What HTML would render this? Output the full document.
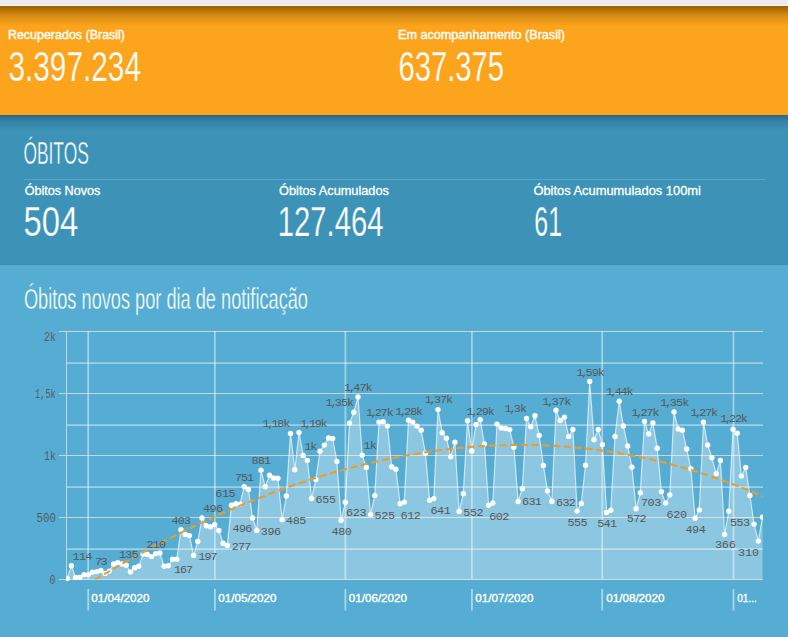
<!DOCTYPE html>
<html><head><meta charset="utf-8"><style>
html,body{margin:0;padding:0;width:788px;height:637px;overflow:hidden;background:#55add3;}
svg{display:block;}
</style></head><body>
<svg width="788" height="637" viewBox="0 0 788 637">
<defs>
<linearGradient id="osh" x1="0" y1="0" x2="0" y2="1">
<stop offset="0" stop-color="#9c5c00"/><stop offset="0.45" stop-color="#d48a14"/><stop offset="1" stop-color="#fca41b"/>
</linearGradient>
<linearGradient id="bsh" x1="0" y1="0" x2="0" y2="1">
<stop offset="0" stop-color="#2b6885"/><stop offset="0.4" stop-color="#3581a4"/><stop offset="1" stop-color="#3c93b7"/>
</linearGradient>
<clipPath id="cl"><rect x="66" y="300" width="697" height="282"/></clipPath>
<clipPath id="cl2"><rect x="66" y="300" width="697" height="279.5"/></clipPath>
</defs>
<rect x="0" y="0" width="788" height="637" fill="#55add3"/>
<rect x="0" y="0" width="788" height="6" fill="#ebebeb"/>
<rect x="0" y="5" width="788" height="1" fill="#f2f5f8"/>
<rect x="0" y="6" width="788" height="109" fill="#fca41b"/>
<rect x="0" y="6" width="788" height="20" fill="url(#osh)"/>
<rect x="0" y="115" width="788" height="150" fill="#3c93b7"/>
<rect x="0" y="115" width="788" height="15" fill="url(#bsh)"/>
<rect x="0" y="264" width="788" height="1" fill="#3a8db2"/>

<g font-family="'Liberation Sans', sans-serif" fill="#ffffff">
<text x="7.9" y="38.7" font-size="12.1" stroke="#ffffff" stroke-width="0.4" textLength="117.1" lengthAdjust="spacingAndGlyphs">Recuperados (Brasil)</text>
<text x="398" y="38.7" font-size="12.1" stroke="#ffffff" stroke-width="0.4" textLength="167" lengthAdjust="spacingAndGlyphs">Em acompanhamento (Brasil)</text>
<g font-size="41.8" stroke="#fca41b" stroke-width="0.25">
<text x="8.4" y="80.6" textLength="132.6" lengthAdjust="spacingAndGlyphs">3.397.234</text>
<text x="398.4" y="80.6" textLength="105.6" lengthAdjust="spacingAndGlyphs">637.375</text>
</g>
<text x="23.4" y="163.9" font-size="31" stroke="#3c93b7" stroke-width="0.4" textLength="65.4" lengthAdjust="spacingAndGlyphs">ÓBITOS</text>
<g font-size="12.3" stroke="#ffffff" stroke-width="0.3">
<text x="24.7" y="194.6" textLength="75.6" lengthAdjust="spacingAndGlyphs">Óbitos Novos</text>
<text x="279.1" y="194.6" textLength="109.8" lengthAdjust="spacingAndGlyphs">Óbitos Acumulados</text>
<text x="533.4" y="194.6" textLength="167.5" lengthAdjust="spacingAndGlyphs">Óbitos Acumumulados 100mi</text>
</g>
<g font-size="41.8" stroke="#3c93b7" stroke-width="0.25">
<text x="23.5" y="235.8" textLength="54.7" lengthAdjust="spacingAndGlyphs">504</text>
<text x="277.8" y="235.8" textLength="105.6" lengthAdjust="spacingAndGlyphs">127.464</text>
<text x="534.3" y="235.8" textLength="27.7" lengthAdjust="spacingAndGlyphs">61</text>
</g>
<text x="23.9" y="308.7" font-size="30.3" stroke="#55add3" stroke-width="0.4" textLength="284.1" lengthAdjust="spacingAndGlyphs">Óbitos novos por dia de notificação</text>
</g>
<rect x="23.7" y="179" width="742" height="1" fill="#5aa6c6"/>

<g fill="none"><line x1="59" y1="331.5" x2="763" y2="331.5" stroke="#cad3d7" stroke-width="1"/><line x1="59" y1="393.5" x2="763" y2="393.5" stroke="#cad3d7" stroke-width="1"/><line x1="59" y1="455.5" x2="763" y2="455.5" stroke="#cad3d7" stroke-width="1"/><line x1="59" y1="517.5" x2="763" y2="517.5" stroke="#cad3d7" stroke-width="1"/><line x1="59" y1="579.5" x2="763" y2="579.5" stroke="#cad3d7" stroke-width="1"/><line x1="66" y1="363.1" x2="763" y2="363.1" stroke="#ffffff" stroke-opacity="0.42" stroke-width="1.7"/><line x1="66" y1="425.1" x2="763" y2="425.1" stroke="#ffffff" stroke-opacity="0.42" stroke-width="1.7"/><line x1="66" y1="487.1" x2="763" y2="487.1" stroke="#ffffff" stroke-opacity="0.42" stroke-width="1.7"/><line x1="66" y1="549.2" x2="763" y2="549.2" stroke="#ffffff" stroke-opacity="0.42" stroke-width="1.7"/><line x1="88.2" y1="331" x2="88.2" y2="579" stroke="#ffffff" stroke-opacity="0.45" stroke-width="1.8"/><line x1="214.9" y1="331" x2="214.9" y2="579" stroke="#ffffff" stroke-opacity="0.45" stroke-width="1.8"/><line x1="345.4" y1="331" x2="345.4" y2="579" stroke="#ffffff" stroke-opacity="0.45" stroke-width="1.8"/><line x1="471.9" y1="331" x2="471.9" y2="579" stroke="#ffffff" stroke-opacity="0.45" stroke-width="1.8"/><line x1="602.2" y1="331" x2="602.2" y2="579" stroke="#ffffff" stroke-opacity="0.45" stroke-width="1.8"/><line x1="733.5" y1="331" x2="733.5" y2="579" stroke="#ffffff" stroke-opacity="0.45" stroke-width="1.8"/><line x1="66.5" y1="331" x2="66.5" y2="579.5" stroke="#cad3d7" stroke-width="1"/></g>
<g clip-path="url(#cl)"><path d="M67.2,579.5 L67.2,578.4 L71.4,565.8 L75.6,577.4 L79.8,577.4 L84.1,574.6 L88.3,574.6 L92.5,572.3 L96.7,571.6 L100.9,570.4 L105.1,573.4 L109.3,571.1 L113.6,564.0 L117.8,562.7 L122.0,564.0 L126.2,565.2 L130.4,571.9 L134.6,567.8 L138.8,566.2 L143.1,554.1 L147.3,554.5 L151.5,556.6 L155.7,553.6 L159.9,553.0 L164.1,566.2 L168.3,565.8 L172.6,559.2 L176.8,559.2 L181.0,529.7 L185.2,534.5 L189.4,535.6 L193.6,555.4 L197.8,541.5 L202.0,518.0 L206.3,525.7 L210.5,526.8 L214.7,524.6 L218.9,530.5 L223.1,543.3 L227.3,545.5 L231.5,505.3 L235.8,503.7 L240.0,504.2 L244.2,486.6 L248.4,489.5 L252.6,518.0 L256.8,530.5 L261.0,470.3 L265.3,486.8 L269.5,475.2 L273.7,478.0 L277.9,478.2 L282.1,519.8 L286.3,496.0 L290.5,433.4 L294.8,469.7 L299.0,432.5 L303.2,455.4 L307.4,460.4 L311.6,498.5 L315.8,479.6 L320.0,451.2 L324.3,445.1 L328.5,438.0 L332.7,438.5 L336.9,461.5 L341.1,520.2 L345.3,502.2 L349.5,423.1 L353.8,412.3 L358.0,396.9 L362.2,455.1 L366.4,467.5 L370.6,514.6 L374.8,495.6 L379.0,422.1 L383.2,421.6 L387.5,426.1 L391.7,466.8 L395.9,469.2 L400.1,503.8 L404.3,502.1 L408.5,420.2 L412.7,422.1 L417.0,426.1 L421.2,430.3 L425.4,453.2 L429.6,500.3 L433.8,498.6 L438.0,409.6 L442.2,432.7 L446.5,438.2 L450.7,456.8 L454.9,442.3 L459.1,511.4 L463.3,493.8 L467.5,420.8 L471.7,450.9 L476.0,424.6 L480.2,419.7 L484.4,443.9 L488.6,505.2 L492.8,503.0 L497.0,424.1 L501.2,427.9 L505.5,428.5 L509.7,429.6 L513.9,447.2 L518.1,501.5 L522.3,488.7 L526.5,418.4 L530.7,426.8 L535.0,415.8 L539.2,435.5 L543.4,465.5 L547.6,491.0 L551.8,501.5 L556.0,410.3 L560.2,420.4 L564.5,417.1 L568.7,436.4 L572.9,429.5 L577.1,511.1 L581.3,503.4 L585.5,465.2 L589.7,381.4 L594.0,439.7 L598.2,429.5 L602.4,444.6 L606.6,512.5 L610.8,510.3 L615.0,436.4 L619.2,401.2 L623.4,426.0 L627.7,446.0 L631.9,467.2 L636.1,508.8 L640.3,492.7 L644.5,421.5 L648.7,433.9 L652.9,422.9 L657.2,448.2 L661.4,491.6 L665.6,503.1 L669.8,494.9 L674.0,411.9 L678.2,429.0 L682.4,430.3 L686.7,449.0 L690.9,468.8 L695.1,518.3 L699.3,509.9 L703.5,422.2 L707.7,445.0 L711.9,457.7 L716.2,473.8 L720.4,460.5 L724.6,534.5 L728.8,511.3 L733.0,429.3 L737.2,433.2 L741.4,476.1 L745.7,467.5 L749.9,495.5 L754.1,524.1 L758.3,541.1 L762.5,517.3 L762.5,579.5 Z" fill="#ffffff" fill-opacity="0.32"/>
<path d="M67.2,578.4 L71.4,565.8 L75.6,577.4 L79.8,577.4 L84.1,574.6 L88.3,574.6 L92.5,572.3 L96.7,571.6 L100.9,570.4 L105.1,573.4 L109.3,571.1 L113.6,564.0 L117.8,562.7 L122.0,564.0 L126.2,565.2 L130.4,571.9 L134.6,567.8 L138.8,566.2 L143.1,554.1 L147.3,554.5 L151.5,556.6 L155.7,553.6 L159.9,553.0 L164.1,566.2 L168.3,565.8 L172.6,559.2 L176.8,559.2 L181.0,529.7 L185.2,534.5 L189.4,535.6 L193.6,555.4 L197.8,541.5 L202.0,518.0 L206.3,525.7 L210.5,526.8 L214.7,524.6 L218.9,530.5 L223.1,543.3 L227.3,545.5 L231.5,505.3 L235.8,503.7 L240.0,504.2 L244.2,486.6 L248.4,489.5 L252.6,518.0 L256.8,530.5 L261.0,470.3 L265.3,486.8 L269.5,475.2 L273.7,478.0 L277.9,478.2 L282.1,519.8 L286.3,496.0 L290.5,433.4 L294.8,469.7 L299.0,432.5 L303.2,455.4 L307.4,460.4 L311.6,498.5 L315.8,479.6 L320.0,451.2 L324.3,445.1 L328.5,438.0 L332.7,438.5 L336.9,461.5 L341.1,520.2 L345.3,502.2 L349.5,423.1 L353.8,412.3 L358.0,396.9 L362.2,455.1 L366.4,467.5 L370.6,514.6 L374.8,495.6 L379.0,422.1 L383.2,421.6 L387.5,426.1 L391.7,466.8 L395.9,469.2 L400.1,503.8 L404.3,502.1 L408.5,420.2 L412.7,422.1 L417.0,426.1 L421.2,430.3 L425.4,453.2 L429.6,500.3 L433.8,498.6 L438.0,409.6 L442.2,432.7 L446.5,438.2 L450.7,456.8 L454.9,442.3 L459.1,511.4 L463.3,493.8 L467.5,420.8 L471.7,450.9 L476.0,424.6 L480.2,419.7 L484.4,443.9 L488.6,505.2 L492.8,503.0 L497.0,424.1 L501.2,427.9 L505.5,428.5 L509.7,429.6 L513.9,447.2 L518.1,501.5 L522.3,488.7 L526.5,418.4 L530.7,426.8 L535.0,415.8 L539.2,435.5 L543.4,465.5 L547.6,491.0 L551.8,501.5 L556.0,410.3 L560.2,420.4 L564.5,417.1 L568.7,436.4 L572.9,429.5 L577.1,511.1 L581.3,503.4 L585.5,465.2 L589.7,381.4 L594.0,439.7 L598.2,429.5 L602.4,444.6 L606.6,512.5 L610.8,510.3 L615.0,436.4 L619.2,401.2 L623.4,426.0 L627.7,446.0 L631.9,467.2 L636.1,508.8 L640.3,492.7 L644.5,421.5 L648.7,433.9 L652.9,422.9 L657.2,448.2 L661.4,491.6 L665.6,503.1 L669.8,494.9 L674.0,411.9 L678.2,429.0 L682.4,430.3 L686.7,449.0 L690.9,468.8 L695.1,518.3 L699.3,509.9 L703.5,422.2 L707.7,445.0 L711.9,457.7 L716.2,473.8 L720.4,460.5 L724.6,534.5 L728.8,511.3 L733.0,429.3 L737.2,433.2 L741.4,476.1 L745.7,467.5 L749.9,495.5 L754.1,524.1 L758.3,541.1 L762.5,517.3" fill="none" stroke="#ffffff" stroke-opacity="0.65" stroke-width="1.2"/>
<g fill="#ffffff"><circle cx="67.2" cy="578.4" r="2.7"/><circle cx="71.4" cy="565.8" r="2.7"/><circle cx="75.6" cy="577.4" r="2.7"/><circle cx="79.8" cy="577.4" r="2.7"/><circle cx="84.1" cy="574.6" r="2.7"/><circle cx="88.3" cy="574.6" r="2.7"/><circle cx="92.5" cy="572.3" r="2.7"/><circle cx="96.7" cy="571.6" r="2.7"/><circle cx="100.9" cy="570.4" r="2.7"/><circle cx="105.1" cy="573.4" r="2.7"/><circle cx="109.3" cy="571.1" r="2.7"/><circle cx="113.6" cy="564.0" r="2.7"/><circle cx="117.8" cy="562.7" r="2.7"/><circle cx="122.0" cy="564.0" r="2.7"/><circle cx="126.2" cy="565.2" r="2.7"/><circle cx="130.4" cy="571.9" r="2.7"/><circle cx="134.6" cy="567.8" r="2.7"/><circle cx="138.8" cy="566.2" r="2.7"/><circle cx="143.1" cy="554.1" r="2.7"/><circle cx="147.3" cy="554.5" r="2.7"/><circle cx="151.5" cy="556.6" r="2.7"/><circle cx="155.7" cy="553.6" r="2.7"/><circle cx="159.9" cy="553.0" r="2.7"/><circle cx="164.1" cy="566.2" r="2.7"/><circle cx="168.3" cy="565.8" r="2.7"/><circle cx="172.6" cy="559.2" r="2.7"/><circle cx="176.8" cy="559.2" r="2.7"/><circle cx="181.0" cy="529.7" r="2.7"/><circle cx="185.2" cy="534.5" r="2.7"/><circle cx="189.4" cy="535.6" r="2.7"/><circle cx="193.6" cy="555.4" r="2.7"/><circle cx="197.8" cy="541.5" r="2.7"/><circle cx="202.0" cy="518.0" r="2.7"/><circle cx="206.3" cy="525.7" r="2.7"/><circle cx="210.5" cy="526.8" r="2.7"/><circle cx="214.7" cy="524.6" r="2.7"/><circle cx="218.9" cy="530.5" r="2.7"/><circle cx="223.1" cy="543.3" r="2.7"/><circle cx="227.3" cy="545.5" r="2.7"/><circle cx="231.5" cy="505.3" r="2.7"/><circle cx="235.8" cy="503.7" r="2.7"/><circle cx="240.0" cy="504.2" r="2.7"/><circle cx="244.2" cy="486.6" r="2.7"/><circle cx="248.4" cy="489.5" r="2.7"/><circle cx="252.6" cy="518.0" r="2.7"/><circle cx="256.8" cy="530.5" r="2.7"/><circle cx="261.0" cy="470.3" r="2.7"/><circle cx="265.3" cy="486.8" r="2.7"/><circle cx="269.5" cy="475.2" r="2.7"/><circle cx="273.7" cy="478.0" r="2.7"/><circle cx="277.9" cy="478.2" r="2.7"/><circle cx="282.1" cy="519.8" r="2.7"/><circle cx="286.3" cy="496.0" r="2.7"/><circle cx="290.5" cy="433.4" r="2.7"/><circle cx="294.8" cy="469.7" r="2.7"/><circle cx="299.0" cy="432.5" r="2.7"/><circle cx="303.2" cy="455.4" r="2.7"/><circle cx="307.4" cy="460.4" r="2.7"/><circle cx="311.6" cy="498.5" r="2.7"/><circle cx="315.8" cy="479.6" r="2.7"/><circle cx="320.0" cy="451.2" r="2.7"/><circle cx="324.3" cy="445.1" r="2.7"/><circle cx="328.5" cy="438.0" r="2.7"/><circle cx="332.7" cy="438.5" r="2.7"/><circle cx="336.9" cy="461.5" r="2.7"/><circle cx="341.1" cy="520.2" r="2.7"/><circle cx="345.3" cy="502.2" r="2.7"/><circle cx="349.5" cy="423.1" r="2.7"/><circle cx="353.8" cy="412.3" r="2.7"/><circle cx="358.0" cy="396.9" r="2.7"/><circle cx="362.2" cy="455.1" r="2.7"/><circle cx="366.4" cy="467.5" r="2.7"/><circle cx="370.6" cy="514.6" r="2.7"/><circle cx="374.8" cy="495.6" r="2.7"/><circle cx="379.0" cy="422.1" r="2.7"/><circle cx="383.2" cy="421.6" r="2.7"/><circle cx="387.5" cy="426.1" r="2.7"/><circle cx="391.7" cy="466.8" r="2.7"/><circle cx="395.9" cy="469.2" r="2.7"/><circle cx="400.1" cy="503.8" r="2.7"/><circle cx="404.3" cy="502.1" r="2.7"/><circle cx="408.5" cy="420.2" r="2.7"/><circle cx="412.7" cy="422.1" r="2.7"/><circle cx="417.0" cy="426.1" r="2.7"/><circle cx="421.2" cy="430.3" r="2.7"/><circle cx="425.4" cy="453.2" r="2.7"/><circle cx="429.6" cy="500.3" r="2.7"/><circle cx="433.8" cy="498.6" r="2.7"/><circle cx="438.0" cy="409.6" r="2.7"/><circle cx="442.2" cy="432.7" r="2.7"/><circle cx="446.5" cy="438.2" r="2.7"/><circle cx="450.7" cy="456.8" r="2.7"/><circle cx="454.9" cy="442.3" r="2.7"/><circle cx="459.1" cy="511.4" r="2.7"/><circle cx="463.3" cy="493.8" r="2.7"/><circle cx="467.5" cy="420.8" r="2.7"/><circle cx="471.7" cy="450.9" r="2.7"/><circle cx="476.0" cy="424.6" r="2.7"/><circle cx="480.2" cy="419.7" r="2.7"/><circle cx="484.4" cy="443.9" r="2.7"/><circle cx="488.6" cy="505.2" r="2.7"/><circle cx="492.8" cy="503.0" r="2.7"/><circle cx="497.0" cy="424.1" r="2.7"/><circle cx="501.2" cy="427.9" r="2.7"/><circle cx="505.5" cy="428.5" r="2.7"/><circle cx="509.7" cy="429.6" r="2.7"/><circle cx="513.9" cy="447.2" r="2.7"/><circle cx="518.1" cy="501.5" r="2.7"/><circle cx="522.3" cy="488.7" r="2.7"/><circle cx="526.5" cy="418.4" r="2.7"/><circle cx="530.7" cy="426.8" r="2.7"/><circle cx="535.0" cy="415.8" r="2.7"/><circle cx="539.2" cy="435.5" r="2.7"/><circle cx="543.4" cy="465.5" r="2.7"/><circle cx="547.6" cy="491.0" r="2.7"/><circle cx="551.8" cy="501.5" r="2.7"/><circle cx="556.0" cy="410.3" r="2.7"/><circle cx="560.2" cy="420.4" r="2.7"/><circle cx="564.5" cy="417.1" r="2.7"/><circle cx="568.7" cy="436.4" r="2.7"/><circle cx="572.9" cy="429.5" r="2.7"/><circle cx="577.1" cy="511.1" r="2.7"/><circle cx="581.3" cy="503.4" r="2.7"/><circle cx="585.5" cy="465.2" r="2.7"/><circle cx="589.7" cy="381.4" r="2.7"/><circle cx="594.0" cy="439.7" r="2.7"/><circle cx="598.2" cy="429.5" r="2.7"/><circle cx="602.4" cy="444.6" r="2.7"/><circle cx="606.6" cy="512.5" r="2.7"/><circle cx="610.8" cy="510.3" r="2.7"/><circle cx="615.0" cy="436.4" r="2.7"/><circle cx="619.2" cy="401.2" r="2.7"/><circle cx="623.4" cy="426.0" r="2.7"/><circle cx="627.7" cy="446.0" r="2.7"/><circle cx="631.9" cy="467.2" r="2.7"/><circle cx="636.1" cy="508.8" r="2.7"/><circle cx="640.3" cy="492.7" r="2.7"/><circle cx="644.5" cy="421.5" r="2.7"/><circle cx="648.7" cy="433.9" r="2.7"/><circle cx="652.9" cy="422.9" r="2.7"/><circle cx="657.2" cy="448.2" r="2.7"/><circle cx="661.4" cy="491.6" r="2.7"/><circle cx="665.6" cy="503.1" r="2.7"/><circle cx="669.8" cy="494.9" r="2.7"/><circle cx="674.0" cy="411.9" r="2.7"/><circle cx="678.2" cy="429.0" r="2.7"/><circle cx="682.4" cy="430.3" r="2.7"/><circle cx="686.7" cy="449.0" r="2.7"/><circle cx="690.9" cy="468.8" r="2.7"/><circle cx="695.1" cy="518.3" r="2.7"/><circle cx="699.3" cy="509.9" r="2.7"/><circle cx="703.5" cy="422.2" r="2.7"/><circle cx="707.7" cy="445.0" r="2.7"/><circle cx="711.9" cy="457.7" r="2.7"/><circle cx="716.2" cy="473.8" r="2.7"/><circle cx="720.4" cy="460.5" r="2.7"/><circle cx="724.6" cy="534.5" r="2.7"/><circle cx="728.8" cy="511.3" r="2.7"/><circle cx="733.0" cy="429.3" r="2.7"/><circle cx="737.2" cy="433.2" r="2.7"/><circle cx="741.4" cy="476.1" r="2.7"/><circle cx="745.7" cy="467.5" r="2.7"/><circle cx="749.9" cy="495.5" r="2.7"/><circle cx="754.1" cy="524.1" r="2.7"/><circle cx="758.3" cy="541.1" r="2.7"/><circle cx="762.5" cy="517.3" r="2.7"/></g>
</g><path d="M67.0,596.8 L69.0,595.6 L71.0,594.3 L73.0,593.1 L75.0,591.8 L77.0,590.6 L79.0,589.4 L81.0,588.1 L83.0,586.9 L85.0,585.7 L87.0,584.5 L89.0,583.3 L91.0,582.1 L93.0,580.9 L95.0,579.7 L97.0,578.5 L99.0,577.3 L101.0,576.1 L103.0,574.9 L105.0,573.7 L107.0,572.6 L109.0,571.4 L111.0,570.2 L113.0,569.1 L115.0,567.9 L117.0,566.8 L119.0,565.6 L121.0,564.5 L123.0,563.4 L125.0,562.2 L127.0,561.1 L129.0,560.0 L131.0,558.9 L133.0,557.8 L135.0,556.7 L137.0,555.6 L139.0,554.5 L141.0,553.4 L143.0,552.3 L145.0,551.2 L147.0,550.2 L149.0,549.1 L151.0,548.0 L153.0,547.0 L155.0,545.9 L157.0,544.8 L159.0,543.8 L161.0,542.8 L163.0,541.7 L165.0,540.7 L167.0,539.7 L169.0,538.6 L171.0,537.6 L173.0,536.6 L175.0,535.6 L177.0,534.6 L179.0,533.6 L181.0,532.6 L183.0,531.6 L185.0,530.7 L187.0,529.7 L189.0,528.7 L191.0,527.7 L193.0,526.8 L195.0,525.8 L197.0,524.9 L199.0,523.9 L201.0,523.0 L203.0,522.1 L205.0,521.1 L207.0,520.2 L209.0,519.3 L211.0,518.4 L213.0,517.5 L215.0,516.6 L217.0,515.7 L219.0,514.8 L221.0,513.9 L223.0,513.0 L225.0,512.1 L227.0,511.2 L229.0,510.4 L231.0,509.5 L233.0,508.7 L235.0,507.8 L237.0,507.0 L239.0,506.1 L241.0,505.3 L243.0,504.4 L245.0,503.6 L247.0,502.8 L249.0,502.0 L251.0,501.2 L253.0,500.4 L255.0,499.6 L257.0,498.8 L259.0,498.0 L261.0,497.2 L263.0,496.4 L265.0,495.7 L267.0,494.9 L269.0,494.1 L271.0,493.4 L273.0,492.6 L275.0,491.9 L277.0,491.1 L279.0,490.4 L281.0,489.7 L283.0,489.0 L285.0,488.2 L287.0,487.5 L289.0,486.8 L291.0,486.1 L293.0,485.4 L295.0,484.7 L297.0,484.1 L299.0,483.4 L301.0,482.7 L303.0,482.0 L305.0,481.4 L307.0,480.7 L309.0,480.1 L311.0,479.4 L313.0,478.8 L315.0,478.2 L317.0,477.5 L319.0,476.9 L321.0,476.3 L323.0,475.7 L325.0,475.1 L327.0,474.5 L329.0,473.9 L331.0,473.3 L333.0,472.7 L335.0,472.1 L337.0,471.6 L339.0,471.0 L341.0,470.4 L343.0,469.9 L345.0,469.3 L347.0,468.8 L349.0,468.3 L351.0,467.7 L353.0,467.2 L355.0,466.7 L357.0,466.2 L359.0,465.7 L361.0,465.2 L363.0,464.7 L365.0,464.2 L367.0,463.7 L369.0,463.2 L371.0,462.8 L373.0,462.3 L375.0,461.8 L377.0,461.4 L379.0,460.9 L381.0,460.5 L383.0,460.0 L385.0,459.6 L387.0,459.2 L389.0,458.8 L391.0,458.4 L393.0,458.0 L395.0,457.6 L397.0,457.2 L399.0,456.8 L401.0,456.4 L403.0,456.0 L405.0,455.7 L407.0,455.3 L409.0,454.9 L411.0,454.6 L413.0,454.2 L415.0,453.9 L417.0,453.6 L419.0,453.2 L421.0,452.9 L423.0,452.6 L425.0,452.3 L427.0,452.0 L429.0,451.7 L431.0,451.4 L433.0,451.1 L435.0,450.8 L437.0,450.6 L439.0,450.3 L441.0,450.0 L443.0,449.8 L445.0,449.5 L447.0,449.3 L449.0,449.1 L451.0,448.8 L453.0,448.6 L455.0,448.4 L457.0,448.2 L459.0,448.0 L461.0,447.8 L463.0,447.6 L465.0,447.4 L467.0,447.3 L469.0,447.1 L471.0,446.9 L473.0,446.8 L475.0,446.6 L477.0,446.5 L479.0,446.3 L481.0,446.2 L483.0,446.1 L485.0,446.0 L487.0,445.8 L489.0,445.7 L491.0,445.6 L493.0,445.5 L495.0,445.5 L497.0,445.4 L499.0,445.3 L501.0,445.2 L503.0,445.2 L505.0,445.1 L507.0,445.1 L509.0,445.0 L511.0,445.0 L513.0,445.0 L515.0,444.9 L517.0,444.9 L519.0,444.9 L521.0,444.9 L523.0,444.9 L525.0,444.9 L527.0,445.0 L529.0,445.0 L531.0,445.0 L533.0,445.1 L535.0,445.1 L537.0,445.1 L539.0,445.2 L541.0,445.3 L543.0,445.3 L545.0,445.4 L547.0,445.5 L549.0,445.6 L551.0,445.7 L553.0,445.8 L555.0,445.9 L557.0,446.0 L559.0,446.2 L561.0,446.3 L563.0,446.4 L565.0,446.6 L567.0,446.7 L569.0,446.9 L571.0,447.1 L573.0,447.2 L575.0,447.4 L577.0,447.6 L579.0,447.8 L581.0,448.0 L583.0,448.2 L585.0,448.4 L587.0,448.6 L589.0,448.9 L591.0,449.1 L593.0,449.4 L595.0,449.6 L597.0,449.9 L599.0,450.1 L601.0,450.4 L603.0,450.7 L605.0,451.0 L607.0,451.2 L609.0,451.5 L611.0,451.9 L613.0,452.2 L615.0,452.5 L617.0,452.8 L619.0,453.1 L621.0,453.5 L623.0,453.8 L625.0,454.2 L627.0,454.6 L629.0,454.9 L631.0,455.3 L633.0,455.7 L635.0,456.1 L637.0,456.5 L639.0,456.9 L641.0,457.3 L643.0,457.7 L645.0,458.1 L647.0,458.6 L649.0,459.0 L651.0,459.5 L653.0,459.9 L655.0,460.4 L657.0,460.9 L659.0,461.3 L661.0,461.8 L663.0,462.3 L665.0,462.8 L667.0,463.3 L669.0,463.8 L671.0,464.3 L673.0,464.9 L675.0,465.4 L677.0,466.0 L679.0,466.5 L681.0,467.1 L683.0,467.6 L685.0,468.2 L687.0,468.8 L689.0,469.4 L691.0,470.0 L693.0,470.6 L695.0,471.2 L697.0,471.8 L699.0,472.4 L701.0,473.1 L703.0,473.7 L705.0,474.3 L707.0,475.0 L709.0,475.7 L711.0,476.3 L713.0,477.0 L715.0,477.7 L717.0,478.4 L719.0,479.1 L721.0,479.8 L723.0,480.5 L725.0,481.2 L727.0,482.0 L729.0,482.7 L731.0,483.4 L733.0,484.2 L735.0,485.0 L737.0,485.7 L739.0,486.5 L741.0,487.3 L743.0,488.1 L745.0,488.9 L747.0,489.7 L749.0,490.5 L751.0,491.3 L753.0,492.1 L755.0,493.0 L757.0,493.8 L759.0,494.7 L761.0,495.5 L763.0,496.4" clip-path="url(#cl2)" fill="none" stroke="#f09b28" stroke-width="2.1" stroke-dasharray="7.13,3.65"/>
<g font-family="'Liberation Mono', monospace" font-size="11.8" fill="#575757"><text x="72.6 78.9 85.2" y="560.2">114</text><text x="94.9 100.4" y="565.0">73</text><text x="119.0 125.2 131.4" y="557.8">135</text><text x="146.4 152.7 159.0" y="548.0">210</text><text x="171.6 177.8 184.0" y="523.5">403</text><text x="174.0 180.0 186.0" y="573.4">167</text><text x="198.2 204.4 210.6" y="559.8">197</text><text x="203.0 209.5 216.0" y="511.9">496</text><text x="215.3 221.9 228.4" y="496.7">615</text><text x="234.9 241.0 247.0" y="480.7">751</text><text x="251.4 257.7 264.0" y="463.7">881</text><text x="232.6 239.0 245.3" y="532.3">496</text><text x="231.8 238.0 244.2" y="549.5">277</text><text x="260.8 267.4 274.0" y="534.5">396</text><text x="262.6 267.2 271.4 277.3 283.2" y="426.9">1,18k</text><text x="300.2 304.8 308.9 314.7 320.5" y="426.5">1,19k</text><text x="304.6 310.2" y="450.0">1k</text><text x="315.6 322.2 328.9" y="502.9">655</text><text x="286.1 292.7 299.2" y="523.7">485</text><text x="331.6 338.2 344.7" y="534.5">480</text><text x="345.9 352.7 359.5" y="516.4">623</text><text x="325.6 330.4 334.8 340.9 347.0" y="406.0">1,35k</text><text x="344.1 348.9 353.3 359.4 365.5" y="390.8">1,47k</text><text x="365.9 370.6 374.8 380.8 386.7" y="416.0">1,27k</text><text x="395.3 400.0 404.2 410.2 416.1" y="415.1">1,28k</text><text x="424.8 429.5 433.9 439.9 446.0" y="403.0">1,37k</text><text x="363.6 369.7" y="448.5">1k</text><text x="374.6 381.2 387.9" y="518.6">525</text><text x="400.5 407.2 413.8" y="518.6">612</text><text x="430.4 437.1 443.7" y="514.4">641</text><text x="466.6 471.3 475.7 481.7 487.8" y="414.5">1,29k</text><text x="504.6 509.4 513.8 519.9" y="412.3">1,3k</text><text x="463.3 469.9 476.4" y="515.8">552</text><text x="489.2 495.8 502.3" y="519.5">602</text><text x="522.0 528.4 534.8" y="505.4">631</text><text x="542.3 547.2 551.7 557.9 564.2" y="404.5">1,37k</text><text x="576.6 581.3 585.6 591.7 597.7" y="376.4">1,59k</text><text x="606.0 610.6 614.8 620.6 626.5" y="394.7">1,44k</text><text x="556.0 562.4 568.8" y="505.6">632</text><text x="567.6 574.1 580.6" y="526.2">555</text><text x="597.2 603.6 610.0" y="527.0">541</text><text x="631.5 636.2 640.5 646.5 652.5" y="415.7">1,27k</text><text x="660.3 665.2 669.7 675.9 682.2" y="406.1">1,35k</text><text x="690.6 695.2 699.3 705.2 711.0" y="415.7">1,27k</text><text x="641.1 647.6 654.2" y="506.4">703</text><text x="626.8 633.2 639.6" y="522.4">572</text><text x="666.4 673.2 680.0" y="517.7">620</text><text x="685.6 692.1 698.7" y="532.5">494</text><text x="720.3 724.9 729.0 734.9 740.7" y="422.3">1,22k</text><text x="729.9 736.4 743.0" y="526.2">553</text><text x="715.0 721.8 728.7" y="547.7">366</text><text x="737.9 744.9 752.0" y="555.5">310</text></g><g font-family="'Liberation Mono', monospace" font-size="12" fill="#5a5a5a"><text x="49.6" y="583.9" textLength="6.0" lengthAdjust="spacingAndGlyphs">0</text><text x="36.5" y="522.4" textLength="19.4" lengthAdjust="spacingAndGlyphs">500</text><text x="44.0" y="460" textLength="11.9" lengthAdjust="spacingAndGlyphs">1k</text><text x="35.1" y="398" textLength="20.7" lengthAdjust="spacingAndGlyphs">1,5k</text><text x="44.0" y="341" textLength="11.8" lengthAdjust="spacingAndGlyphs">2k</text></g>
<g stroke="#ffffff" stroke-opacity="0.5" stroke-width="1.8"><line x1="88.2" y1="589" x2="88.2" y2="610.5"/><line x1="214.9" y1="589" x2="214.9" y2="610.5"/><line x1="345.4" y1="589" x2="345.4" y2="610.5"/><line x1="471.9" y1="589" x2="471.9" y2="610.5"/><line x1="602.2" y1="589" x2="602.2" y2="610.5"/><line x1="733.5" y1="589" x2="733.5" y2="610.5"/></g>
<g font-family="'Liberation Sans', sans-serif" font-size="11.2" fill="#ffffff" stroke="#ffffff" stroke-width="0.35"><text x="91.3" y="601.8" textLength="58.2" lengthAdjust="spacingAndGlyphs">01/04/2020</text><text x="218.3" y="601.8" textLength="58.2" lengthAdjust="spacingAndGlyphs">01/05/2020</text><text x="348.8" y="601.8" textLength="58.2" lengthAdjust="spacingAndGlyphs">01/06/2020</text><text x="475.3" y="601.8" textLength="58.2" lengthAdjust="spacingAndGlyphs">01/07/2020</text><text x="606.3" y="601.8" textLength="58.2" lengthAdjust="spacingAndGlyphs">01/08/2020</text><text x="737.3" y="601.8" textLength="19.5" lengthAdjust="spacingAndGlyphs">01...</text></g>
</svg>
</body></html>
